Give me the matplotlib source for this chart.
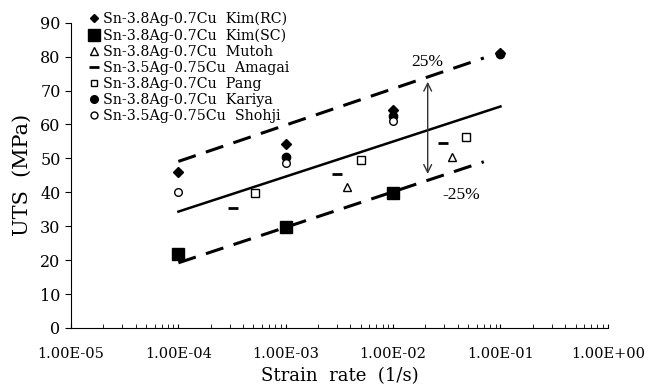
import numpy as np
import matplotlib.pyplot as plt
from matplotlib.lines import Line2D

plt.rcParams['font.family'] = ['DejaVu Serif']

# data (strain rate in 1/s, UTS in MPa)
kim_rc_x = [1e-4, 1e-3, 1e-2, 1e-1]
kim_rc_y = [46.0, 54.2, 64.4, 81.0]
kim_sc_x = [1e-4, 1e-3, 1e-2]
kim_sc_y = [21.8, 29.8, 39.8]
mutoh_x = [3.7e-3, 3.5e-2]
mutoh_y = [41.7, 50.5]
amagai_x = [3.2e-4, 3.0e-3, 2.9e-2]
amagai_y = [35.5, 45.4, 54.5]
pang_x = [5.2e-4, 5.0e-3, 4.8e-2]
pang_y = [39.9, 49.4, 56.3]
kariya_x = [1e-3, 1e-2, 1e-1]
kariya_y = [50.5, 62.5, 80.8]
shohji_x = [1e-4, 1e-3, 1e-2]
shohji_y = [40.2, 48.6, 60.9]

fit_x = [1e-4, 1e-1]
fit_y = [34.3, 65.3]
upper_x = [1e-4, 7e-2]
upper_y = [49.1, 79.6]
lower_x = [1e-4, 7e-2]
lower_y = [19.2, 49.0]

arrow_x = 2.1e-2
arrow_y = [44.6, 73.4]

labels = ['Sn-3.8Ag-0.7Cu  Kim(RC)', 'Sn-3.8Ag-0.7Cu  Kim(SC)',
          'Sn-3.8Ag-0.7Cu  Mutoh', 'Sn-3.5Ag-0.75Cu  Amagai',
          'Sn-3.8Ag-0.7Cu  Pang', 'Sn-3.8Ag-0.7Cu  Kariya',
          'Sn-3.5Ag-0.75Cu  Shohji']

fig = plt.figure(figsize=(6.48, 3.89), dpi=100)
ax = fig.add_axes([0.1096, 0.157, 0.8284, 0.7846])

# trend lines
ax.plot(fit_x, fit_y, '-', color='black', lw=1.8)
ax.plot(upper_x, upper_y, color='black', lw=2.2, dashes=(6, 3.5))
ax.plot(lower_x, lower_y, color='black', lw=2.2, dashes=(6, 3.5))

# data points
ax.plot(kim_rc_x, kim_rc_y, 'D', color='black', ms=5, ls='none')
ax.plot(kim_sc_x, kim_sc_y, 's', color='black', ms=9, ls='none')
ax.plot(mutoh_x, mutoh_y, '^', mfc='white', mec='black', ms=6, mew=1, ls='none')
ax.plot(amagai_x, amagai_y, '_', color='black', ms=7, mew=2, ls='none')
ax.plot(pang_x, pang_y, 's', mfc='white', mec='black', ms=5.5, mew=1, ls='none')
ax.plot(kariya_x, kariya_y, 'o', color='black', ms=6, ls='none')
ax.plot(shohji_x, shohji_y, 'o', mfc='white', mec='black', ms=5.5, mew=1, ls='none')

# +/-25% arrow
ax.annotate('', xy=(arrow_x, arrow_y[1]), xytext=(arrow_x, arrow_y[0]),
            arrowprops=dict(arrowstyle='<->', color='#333333', lw=1,
                            mutation_scale=14))
ax.text(arrow_x, 78.5, '25%', ha='center', va='center', fontsize=12.5,
        family='Liberation Serif')
ax.text(4.3e-2, 39.2, '-25%', ha='center', va='center', fontsize=12.5,
        family='Liberation Serif')

ax.set_xscale('log')
ax.set_xlim(1e-5, 1)
ax.set_ylim(0, 90)
ax.set_yticks(np.arange(0, 91, 10))
xt = [1e-5, 1e-4, 1e-3, 1e-2, 1e-1, 1]
ax.set_xticks(xt)
ax.set_xticklabels(['1.00E-05', '1.00E-04', '1.00E-03', '1.00E-02',
                    '1.00E-01', '1.00E+00'])
ax.tick_params(axis='x', which='both', direction='in', length=3, pad=14,
               labelsize=10.5)
ax.tick_params(axis='y', direction='out', length=4, labelsize=11.5)
ax.spines['top'].set_visible(False)
ax.spines['right'].set_visible(False)
ax.set_xlabel('Strain  rate  (1/s)', fontsize=13, labelpad=4)
ax.set_ylabel('UTS  (MPa)', fontsize=15, labelpad=6)

handles = [
    Line2D([], [], marker='D', color='black', ms=4.5, ls='none'),
    Line2D([], [], marker='s', color='black', ms=9, ls='none'),
    Line2D([], [], marker='^', mfc='white', mec='black', ms=5.5, ls='none'),
    Line2D([], [], marker='_', color='black', ms=7, mew=2, ls='none'),
    Line2D([], [], marker='s', mfc='white', mec='black', ms=5, ls='none'),
    Line2D([], [], marker='o', color='black', ms=5.5, ls='none'),
    Line2D([], [], marker='o', mfc='white', mec='black', ms=5, ls='none'),
]
ax.legend(handles, labels, loc='upper left', bbox_to_anchor=(0.025, 1.055),
          frameon=False, fontsize=10.3, handlelength=0.6, handletextpad=0.3,
          labelspacing=0.15, borderaxespad=0)

fig.savefig('out.png', dpi=100)
